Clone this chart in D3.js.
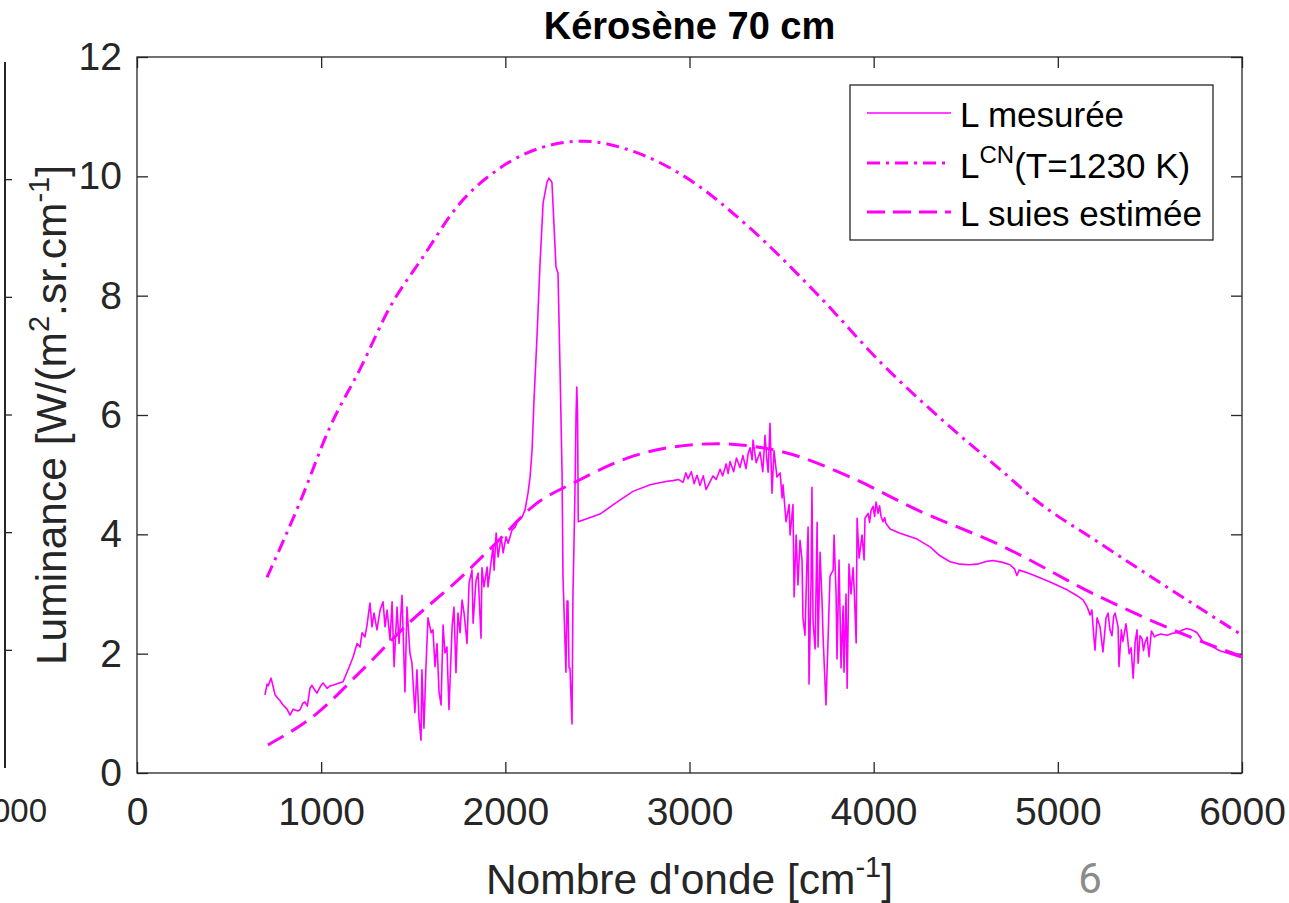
<!DOCTYPE html>
<html>
<head>
<meta charset="utf-8">
<script src="https://cdn.jsdelivr.net/npm/d3@7"></script>
<style>
body { margin: 0; background: #fff; }
svg { display: block; font-family: Arial, "Liberation Sans", Helvetica, sans-serif; }
</style>
</head>
<body>
<svg id="chart" width="1289" height="903"></svg>
<script>
// valeurs
const xTicks = [0, 1000, 2000, 3000, 4000, 5000, 6000]
const yTicks = [0, 2, 4, 6, 8, 10, 12]

// L mesurée
const waveMes = [695, 706, 712, 728, 739, 750, 760, 777, 793, 815, 831, 848, 874, 885, 901, 912, 925, 939, 950, 963, 977, 994,
	1010, 1032, 1048, 1064, 1090, 1119, 1146, 1173, 1195, 1211, 1222, 1238, 1249, 1265, 1276, 1287, 1303, 1320, 1336, 1347,
	1358, 1374, 1385, 1396, 1412, 1423, 1439, 1455, 1466, 1482, 1493, 1509, 1520, 1531, 1542, 1547, 1558, 1569, 1580, 1597,
	1607, 1618, 1629, 1640, 1651, 1662, 1672, 1683, 1694, 1711, 1721, 1732, 1743, 1754, 1765, 1776, 1792, 1803, 1819, 1825,
	1841, 1852, 1868, 1873, 1884, 1901, 1906, 1922, 1933, 1939, 1950, 1961, 1977, 1988, 2004, 2015, 2036, 2053, 2069, 2091,
	2107, 2123, 2134, 2145, 2155, 2172, 2188, 2205, 2226, 2237, 2253, 2264, 2275, 2286, 2297, 2308, 2313, 2329, 2335, 2340,
	2346, 2351, 2362, 2367, 2378, 2384, 2388, 2392, 2396, 2450, 2514, 2606, 2693, 2786, 2878, 2910, 2940, 2965, 2980, 2992,
	3010, 3025, 3041, 3057, 3075, 3090, 3111, 3128, 3145, 3166, 3180, 3199, 3210, 3220, 3240, 3255, 3274, 3290, 3307, 3318,
	3329, 3340, 3345, 3362, 3383, 3398, 3410, 3420, 3427, 3437, 3448, 3459, 3475, 3492, 3503, 3508, 3524, 3541, 3546, 3562,
	3568, 3579, 3589, 3600, 3611, 3616, 3627, 3638, 3644, 3649, 3660, 3665, 3671, 3682, 3693, 3698, 3709, 3720, 3725, 3741,
	3752, 3763, 3780, 3785, 3796, 3801, 3812, 3823, 3834, 3839, 3850, 3856, 3866, 3877, 3888, 3894, 3905, 3910, 3921, 3937,
	3948, 3953, 3970, 3978, 3986, 3997, 4005, 4013, 4024, 4032, 4040, 4051, 4060, 4067, 4089, 4105, 4143, 4236, 4306, 4360,
	4415, 4469, 4520, 4561, 4615, 4648, 4700, 4740, 4765, 4778, 4790, 4830, 4866, 4958, 5050, 5100, 5137, 5160, 5175, 5185,
	5195, 5202, 5213, 5229, 5245, 5262, 5273, 5283, 5294, 5303, 5311, 5327, 5332, 5345, 5353, 5370, 5376, 5387, 5398, 5409,
	5420, 5430, 5436, 5446, 5457, 5465, 5473, 5485, 5495, 5508, 5525, 5539, 5560, 5593, 5620, 5647, 5680, 5700, 5718, 5740,
	5756, 5788, 5815, 5843, 5880, 5919, 5960, 6000]
const lumMes = [1.31, 1.49, 1.46, 1.59, 1.45, 1.31, 1.27, 1.21, 1.14, 1.07, 0.97, 1.07, 1.04, 1.06, 1.17, 1.19, 1.12, 1.42, 1.47, 1.40, 1.34, 1.44,
	1.51, 1.42, 1.46, 1.47, 1.50, 1.53, 1.73, 1.94, 2.17, 2.11, 2.35, 2.28, 2.48, 2.85, 2.45, 2.68, 2.40, 2.73, 2.87, 2.45,
	2.73, 2.23, 2.87, 1.78, 2.78, 2.17, 2.98, 1.36, 2.78, 2.01, 1.84, 1.01, 1.73, 0.92, 0.55, 1.73, 0.75, 1.78, 2.60, 2.35,
	2.40, 1.78, 2.17, 1.36, 1.14, 2.48, 2.01, 2.11, 1.06, 2.45, 2.78, 1.68, 2.68, 2.35, 2.90, 2.68, 2.17, 3.18, 3.40, 2.51,
	3.23, 3.35, 2.26, 3.44, 3.12, 3.45, 3.12, 3.52, 3.79, 3.40, 4.02, 3.62, 3.96, 3.69, 3.96, 3.85, 4.07, 4.12, 4.24, 4.29,
	4.41, 4.69, 4.95, 5.40, 6.20, 7.32, 8.51, 9.55, 9.90, 9.97, 9.90, 9.20, 8.48, 8.38, 6.77, 5.03, 3.30, 1.69, 2.88, 2.88,
	1.76, 1.76, 0.82, 2.95, 4.69, 6.00, 6.47, 6.05, 4.21, 4.27, 4.34, 4.54, 4.72, 4.83, 4.89, 4.90, 4.92, 4.87, 5.03, 4.93,
	5.05, 4.85, 4.99, 4.82, 4.98, 4.75, 4.88, 4.98, 4.92, 5.09, 4.98, 5.18, 5.02, 5.22, 5.05, 5.28, 5.12, 5.32, 5.10, 5.35,
	5.45, 5.25, 5.58, 5.20, 5.38, 5.05, 5.66, 5.25, 5.04, 5.86, 4.69, 5.40, 4.96, 5.03, 4.61, 4.83, 4.21, 4.50, 3.99, 4.50,
	2.95, 3.99, 3.15, 3.90, 3.57, 2.60, 2.31, 3.57, 4.12, 1.49, 3.20, 4.79, 2.53, 2.08, 4.20, 2.11, 3.70, 2.85, 2.31, 1.14,
	2.20, 3.30, 3.40, 3.99, 3.00, 1.91, 3.57, 1.76, 2.80, 1.69, 3.00, 1.42, 3.50, 3.00, 3.44, 3.10, 2.18, 4.27, 3.60, 3.99,
	3.57, 4.27, 4.35, 4.20, 4.40, 4.47, 4.30, 4.54, 4.35, 4.48, 4.30, 4.21, 4.28, 4.18, 4.09, 4.07, 4.02, 3.92, 3.79, 3.64,
	3.54, 3.50, 3.49, 3.50, 3.55, 3.56, 3.53, 3.49, 3.42, 3.31, 3.40, 3.36, 3.32, 3.20, 3.07, 2.98, 2.90, 2.78, 2.65, 2.73,
	2.30, 2.06, 2.60, 2.45, 2.03, 2.60, 2.68, 2.40, 2.30, 2.62, 2.68, 2.45, 1.78, 2.40, 2.20, 2.50, 2.35, 2.00, 2.10, 1.59,
	2.20, 2.40, 1.84, 2.30, 2.25, 2.05, 2.18, 2.28, 1.95, 2.38, 2.28, 2.31, 2.33, 2.31, 2.34, 2.35, 2.40, 2.42, 2.41, 2.38,
	2.35, 2.20, 2.15, 2.11, 2.05, 2.01, 1.97, 1.93]

// L CN (T=1230 K)
const waveCN = [706, 885, 1048, 1211, 1374, 1553, 1738, 1971, 2205, 2422, 2693, 2987, 3329, 3692, 4051, 4415, 4686, 4877, 5229, 6000]
const lumCN = [3.28, 4.54, 5.80, 6.77, 7.81, 8.65, 9.49, 10.14, 10.49, 10.59, 10.42, 9.97, 9.13, 8.03, 6.84, 5.80, 5.09, 4.58, 3.85, 2.31]

// L suies estimée
const waveSuie = [711, 977, 1211, 1482, 1738, 1971, 2150, 2389, 2693, 3057, 3150, 3329, 3508, 3872, 4236, 4686, 5229, 5718, 6000]
const lumSuie = [0.47, 1.00, 1.69, 2.53, 3.22, 3.92, 4.47, 4.89, 5.31, 5.51, 5.52, 5.48, 5.38, 4.96, 4.41, 3.82, 2.95, 2.28, 1.95]

const magenta = '#ff00ff'
const axisColor = '#262626'

const svg = d3.select('#chart')

// zone du graphique
const plotLeft = 137, plotRight = 1242, plotTop = 57, plotBottom = 773

const xScale = d3.scaleLinear().domain([0, 6000]).range([plotLeft, plotRight])
const yScale = d3.scaleLinear().domain([0, 12]).range([plotBottom, plotTop])

svg.append('clipPath').attr('id', 'clip')
	.append('rect').attr('x', plotLeft).attr('y', plotTop)
	.attr('width', plotRight - plotLeft).attr('height', plotBottom - plotTop)

// axes (ticks vers l'intérieur, comme matlab)
svg.append('g').attr('transform', `translate(0, ${plotBottom})`)
	.call(d3.axisBottom(xScale).tickValues(xTicks).tickFormat(d3.format('d'))
		.tickSizeInner(-11).tickSizeOuter(0).tickPadding(24))
svg.append('g').attr('transform', `translate(0, ${plotTop})`)
	.call(d3.axisTop(xScale).tickValues(xTicks).tickSizeInner(-11).tickSizeOuter(0).tickFormat(''))
svg.append('g').attr('transform', `translate(${plotLeft}, 0)`)
	.call(d3.axisLeft(yScale).tickValues(yTicks).tickFormat(d3.format('d'))
		.tickSizeInner(-11).tickSizeOuter(0).tickPadding(15))
svg.append('g').attr('transform', `translate(${plotRight}, 0)`)
	.call(d3.axisRight(yScale).tickValues(yTicks).tickSizeInner(-11).tickSizeOuter(0).tickFormat(''))

svg.selectAll('.domain').remove()
svg.selectAll('.tick line').style('stroke', axisColor).style('stroke-width', 1.3)
svg.selectAll('.tick text').style('fill', axisColor).style('font-size', '39px')
	.style('font-family', 'Arial, "Liberation Sans", sans-serif')

svg.append('rect')
	.attr('x', plotLeft).attr('y', plotTop)
	.attr('width', plotRight - plotLeft).attr('height', plotBottom - plotTop)
	.style('fill', 'none').style('stroke', axisColor).style('stroke-width', 1.3)

// courbes
const plot = svg.append('g').attr('clip-path', 'url(#clip)')

const lineMes = d3.line().x((d, i) => xScale(waveMes[i])).y(d => yScale(d))
plot.append('path').datum(lumMes)
	.attr('d', lineMes)
	.style('fill', 'none').style('stroke', magenta).style('stroke-width', 1.6)
	.style('stroke-linejoin', 'round')

const lineCN = d3.line().curve(d3.curveMonotoneX).x((d, i) => xScale(waveCN[i])).y(d => yScale(d))
plot.append('path').datum(lumCN)
	.attr('d', lineCN)
	.style('fill', 'none').style('stroke', magenta).style('stroke-width', 3)
	.style('stroke-dasharray', '13,6,3,6')

const lineSuie = d3.line().curve(d3.curveMonotoneX).x((d, i) => xScale(waveSuie[i])).y(d => yScale(d))
plot.append('path').datum(lumSuie)
	.attr('d', lineSuie)
	.style('fill', 'none').style('stroke', magenta).style('stroke-width', 3)
	.style('stroke-dasharray', '18,9')

// titre
svg.append('text')
	.attr('x', (plotLeft + plotRight) / 2).attr('y', 39)
	.style('text-anchor', 'middle').style('font-weight', 'bold').style('font-size', '38px')
	.style('fill', '#000')
	.text('Kérosène 70 cm')

// etiquette axe x
const xLab = svg.append('text')
	.attr('x', (plotLeft + plotRight) / 2).attr('y', 894)
	.style('text-anchor', 'middle').style('font-size', '42.5px').style('fill', axisColor)
xLab.append('tspan').text("Nombre d'onde [cm")
xLab.append('tspan').attr('dy', -17).style('font-size', '29px').text('-1')
xLab.append('tspan').attr('dy', 17).text(']')

// etiquette axe y
const yLab = svg.append('text')
	.attr('transform', `translate(66, ${(plotTop + plotBottom) / 2}) rotate(-90)`)
	.style('text-anchor', 'middle').style('font-size', '42.5px').style('fill', axisColor)
yLab.append('tspan').text('Luminance [W/(m')
yLab.append('tspan').attr('dy', -17).style('font-size', '29px').text('2')
yLab.append('tspan').attr('dy', 17).text('.sr.cm')
yLab.append('tspan').attr('dy', -17).style('font-size', '29px').text('-1')
yLab.append('tspan').attr('dy', 17).text(']')

// legende
const legend = svg.append('g')
legend.append('rect')
	.attr('x', 850).attr('y', 85).attr('width', 363).attr('height', 155)
	.style('fill', '#fff').style('stroke', axisColor).style('stroke-width', 1.3)

const legRows = [
	{ y: 113, dash: null, w: 1.6 },
	{ y: 163, dash: '13,6,3,6', w: 3 },
	{ y: 212, dash: '18,8', w: 3 }
]
legRows.forEach(r => {
	legend.append('line')
		.attr('x1', 867).attr('x2', 951).attr('y1', r.y).attr('y2', r.y)
		.style('stroke', magenta).style('stroke-width', r.w)
		.style('stroke-dasharray', r.dash)
})
legend.append('text').attr('x', 960).attr('y', 127).style('font-size', '35px').text('L mesurée')
const leg2 = legend.append('text').attr('x', 960).attr('y', 178).style('font-size', '35px')
leg2.append('tspan').text('L')
leg2.append('tspan').attr('dy', -15).style('font-size', '24px').text('CN')
leg2.append('tspan').attr('dy', 15).text('(T=1230 K)')
legend.append('text').attr('x', 960).attr('y', 226).style('font-size', '35px').text('L suies estimée')

// restes du graphique voisin a gauche
const yLeft = d3.scaleLinear().domain([0, 12]).range([768, 62])
svg.append('line').attr('x1', 5).attr('x2', 5).attr('y1', yLeft(12)).attr('y2', yLeft(0))
	.style('stroke', axisColor).style('stroke-width', 2)
svg.append('g').selectAll('line').data([2, 4, 6, 8, 10]).enter().append('line')
	.attr('x1', 5).attr('x2', 12).attr('y1', d => yLeft(d)).attr('y2', d => yLeft(d))
	.style('stroke', axisColor).style('stroke-width', 1.3)
svg.append('text').attr('x', 47).attr('y', 822).style('text-anchor', 'end')
	.style('font-size', '33px').style('fill', axisColor).text('6000')

// numero de page
svg.append('text').attr('x', 1090).attr('y', 893).style('text-anchor', 'middle')
	.style('font-size', '42px').style('fill', '#8c8c8c').style('font-family', 'Roboto, sans-serif').text('6')
</script>
</body>
</html>
